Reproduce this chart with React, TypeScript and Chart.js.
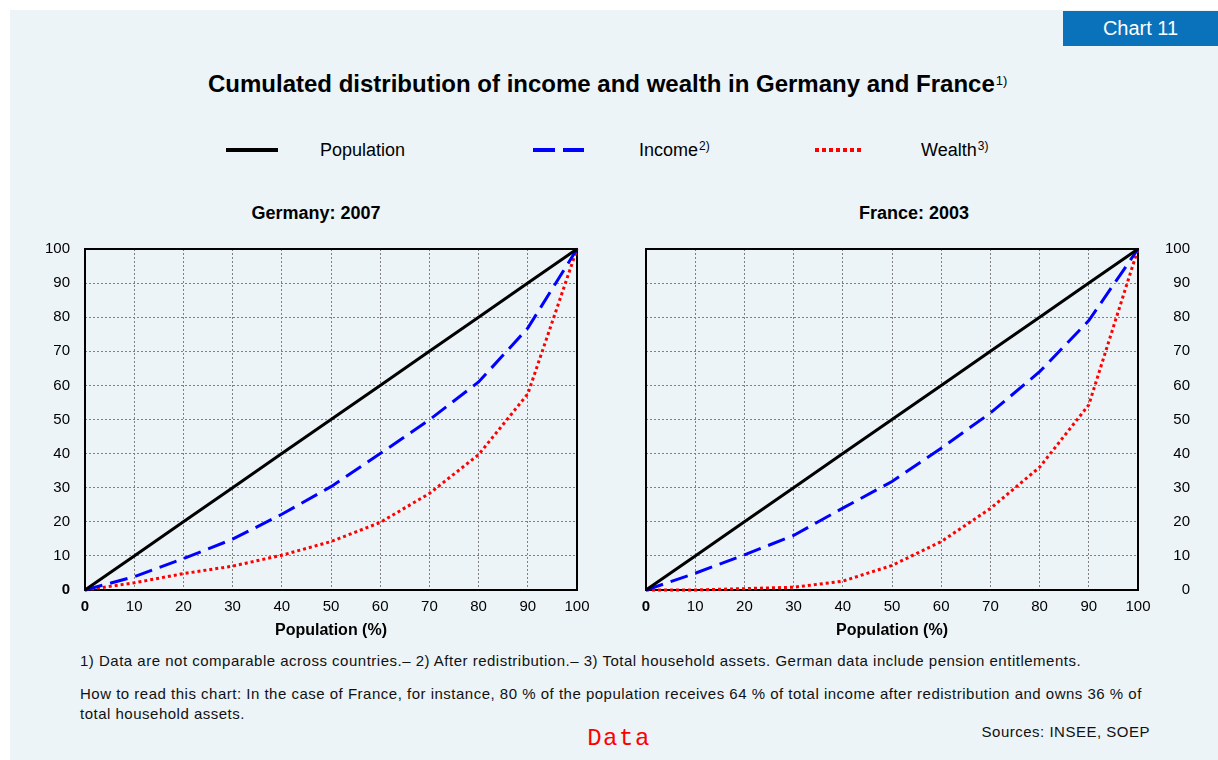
import React, { useEffect, useRef } from "react";
import { Chart, registerables } from "chart.js";

Chart.register(...registerables);

// ---- Data ----
const populationShare = [0, 10, 20, 30, 40, 50, 60, 70, 80, 90, 100];

const germanyPopulation = [0, 10, 20, 30, 40, 50, 60, 70, 80, 90, 100];
const germanyIncome = [0, 3.9, 9.2, 14.9, 22.2, 30.3, 40, 49.9, 61, 76.8, 100];
const germanyWealth = [0, 2.1, 4.8, 7, 10.2, 14.2, 19.8, 28.3, 39.7, 57.5, 100];

const francePopulation = [0, 10, 20, 30, 40, 50, 60, 70, 80, 90, 100];
const franceIncome = [0, 4.9, 10.3, 16, 24, 31.8, 41.6, 51.9, 64, 79, 100];
const franceWealth = [0, 0, 0.4, 0.8, 2.6, 7.2, 14.2, 23.9, 36, 54.3, 100];

const seriesLabels = ["Population", "Income", "Wealth"];
const axisMin = 0;
const axisMax = 100;
const axisStep = 10;

const FONT = "'Liberation Sans', Arial, Helvetica, sans-serif";

const framePlugin = {
  id: "frame",
  beforeDatasetsDraw(chart: any) {
    const { ctx, chartArea } = chart;
    const { left, top, right, bottom } = chartArea;
    ctx.save();
    ctx.setLineDash([]);
    ctx.strokeStyle = "#000";
    ctx.lineWidth = 2;
    ctx.strokeRect(left, top, right - left, bottom - top);
    ctx.restore();
  },
};

function toPoints(ys: number[]) {
  return populationShare.map((x, i) => ({ x, y: ys[i] }));
}

type PanelProps = {
  left: number;
  top: number;
  width: number;
  height: number;
  population: number[];
  income: number[];
  wealth: number[];
  side: "left" | "right";
  pad: { left: number; right: number; top: number; bottom: number };
  yAxisWidth: number;
  yBoldZero: boolean;
};

function LorenzPanel(p: PanelProps) {
  const ref = useRef<HTMLCanvasElement | null>(null);
  useEffect(() => {
    if (!ref.current) return;
    const tickFont = (bold: boolean) => (c: any) => ({
      family: FONT,
      size: 15,
      weight: bold && c.tick && c.tick.value === 0 ? "bold" : "normal",
    });
    const chart = new Chart(ref.current, {
      type: "line",
      data: {
        datasets: [
          {
            label: seriesLabels[0],
            data: toPoints(p.population),
            borderColor: "#000000",
            borderWidth: 3,
            pointRadius: 0,
            tension: 0,
            clip: false,
          },
          {
            label: seriesLabels[1],
            data: toPoints(p.income),
            borderColor: "#0000ff",
            borderWidth: 3,
            borderDash: [18, 8],
            pointRadius: 0,
            tension: 0,
            clip: false,
          },
          {
            label: seriesLabels[2],
            data: toPoints(p.wealth),
            borderColor: "#ff0000",
            borderWidth: 3,
            borderDash: [3, 3],
            pointRadius: 0,
            tension: 0,
            clip: false,
          },
        ],
      } as any,
      options: {
        animation: false,
        responsive: false,
        devicePixelRatio: 1,
        layout: { padding: p.pad },
        plugins: {
          legend: { display: false },
          tooltip: { enabled: false },
          title: { display: false },
        },
        scales: {
          x: {
            type: "linear",
            min: axisMin,
            max: axisMax,
            ticks: {
              stepSize: axisStep,
              padding: 8,
              color: "#000",
              maxRotation: 0,
              font: tickFont(true) as any,
            },
            grid: { color: "#808080", lineWidth: 1, drawTicks: false },
            border: { display: false, dash: [2, 2] },
            title: {
              display: true,
              text: "Population (%)",
              color: "#000",
              font: { family: FONT, size: 16, weight: "bold" },
              padding: { top: 0, bottom: 2 },
            },
            afterFit: (s: any) => {
              s.height = 52;
            },
          },
          y: {
            type: "linear",
            position: p.side,
            min: axisMin,
            max: axisMax,
            ticks: {
              stepSize: axisStep,
              padding: p.side === "left" ? 15 : 17,
              color: "#000",
              crossAlign: p.side === "left" ? "near" : "far",
              font: tickFont(p.yBoldZero) as any,
            },
            grid: { color: "#808080", lineWidth: 1, drawTicks: false },
            border: { display: false, dash: [2, 2] },
            afterFit: (s: any) => {
              s.width = p.yAxisWidth;
            },
          },
        },
      } as any,
      plugins: [framePlugin],
    });
    return () => chart.destroy();
  }, []);
  return (
    <canvas
      ref={ref}
      width={p.width}
      height={p.height}
      style={{ position: "absolute", left: p.left, top: p.top, width: p.width, height: p.height }}
    />
  );
}

function Txt(props: {
  x: number;
  cy: number;
  size: number;
  bold?: boolean;
  align?: "left" | "center" | "right";
  color?: string;
  family?: string;
  children: any;
  lh?: number;
  ls?: number;
}) {
  const { x, cy, size, bold, align = "left", color = "#000", family = FONT, children, lh, ls } = props;
  const lineH = lh ?? size * 1.2;
  const style: any = {
    position: "absolute",
    top: cy - size * 0.59 - (lineH - size * 1.2) / 2,
    fontFamily: family,
    fontSize: size,
    fontWeight: bold ? "bold" : "normal",
    color,
    lineHeight: lineH + "px",
    whiteSpace: "nowrap",
    letterSpacing: ls ? ls + "px" : "normal",
  };
  if (align === "left") style.left = x;
  else if (align === "right") style.right = 1218 - x;
  else {
    style.left = x;
    style.transform = "translateX(-50%)";
  }
  return <div style={style}>{children}</div>;
}

const sup = (t: string, size: number) => (
  <span style={{ fontSize: size, position: "relative", top: -size * 0.55, marginLeft: 1, letterSpacing: "normal" }}>{t}</span>
);

export default function App() {
  return (
    <div style={{ position: "fixed", left: 0, top: 0, width: 1218, height: 760, background: "#ffffff", overflow: "hidden" }}>
      <div style={{ position: "absolute", left: 10, top: 10, width: 1208, height: 750, background: "#ecf4f7" }} />
      <div
        style={{
          position: "absolute",
          left: 1063,
          top: 11,
          width: 155,
          height: 35,
          background: "#0a72ba",
          color: "#fff",
          fontFamily: FONT,
          fontSize: 20,
          lineHeight: "35px",
          textAlign: "center",
        }}
      >
        Chart 11
      </div>

      <Txt x={208} cy={84} size={24} bold>
        Cumulated distribution of income and wealth in Germany and France
        <span style={{ fontWeight: "normal" }}>{sup("1)", 13)}</span>
      </Txt>

      <svg style={{ position: "absolute", left: 0, top: 0 }} width={1218} height={200}>
        <line x1={226} y1={150} x2={278} y2={150} stroke="#000" strokeWidth={4} />
        <line x1={533} y1={150} x2={584} y2={150} stroke="#0000ff" strokeWidth={4} strokeDasharray="22 8" />
        <line x1={815} y1={150} x2={864} y2={150} stroke="#ff0000" strokeWidth={4} strokeDasharray="4 3" />
      </svg>
      <Txt x={320} cy={151} size={18}>
        {seriesLabels[0]}
      </Txt>
      <Txt x={639} cy={151} size={18}>
        {seriesLabels[1]}
        {sup("2)", 12)}
      </Txt>
      <Txt x={921} cy={151} size={18}>
        {seriesLabels[2]}
        {sup("3)", 12)}
      </Txt>

      <Txt x={316} cy={214} size={18} bold align="center">
        Germany: 2007
      </Txt>
      <Txt x={914} cy={214} size={18} bold align="center">
        France: 2003
      </Txt>

      <LorenzPanel
        left={30}
        top={195}
        width={570}
        height={450}
        population={germanyPopulation}
        income={germanyIncome}
        wealth={germanyWealth}
        side="left"
        pad={{ left: 0, right: 23, top: 54, bottom: 3 }}
        yAxisWidth={55}
        yBoldZero={true}
      />
      <LorenzPanel
        left={600}
        top={195}
        width={590}
        height={450}
        population={francePopulation}
        income={franceIncome}
        wealth={franceWealth}
        side="right"
        pad={{ left: 46, right: 0, top: 54, bottom: 3 }}
        yAxisWidth={52}
        yBoldZero={false}
      />

      <Txt x={80} cy={661} size={15} ls={0.5} color="#111">
        1) Data are not comparable across countries.– 2) After redistribution.– 3) Total household assets. German data include pension entitlements.
      </Txt>
      <Txt x={80} cy={694} size={15} ls={0.5} color="#111" lh={20}>
        How to read this chart: In the case of France, for instance, 80 % of the population receives 64 % of total income after redistribution and owns 36 % of
        <br />
        total household assets.
      </Txt>
      <Txt x={1150} cy={732} size={15} ls={0.5} color="#111" align="right">
        Sources: INSEE, SOEP
      </Txt>
      <Txt x={619} cy={739} size={24} ls={1.5} color="#ff0000" align="center" family="'Liberation Mono', 'Courier New', monospace">
        Data
      </Txt>
    </div>
  );
}
